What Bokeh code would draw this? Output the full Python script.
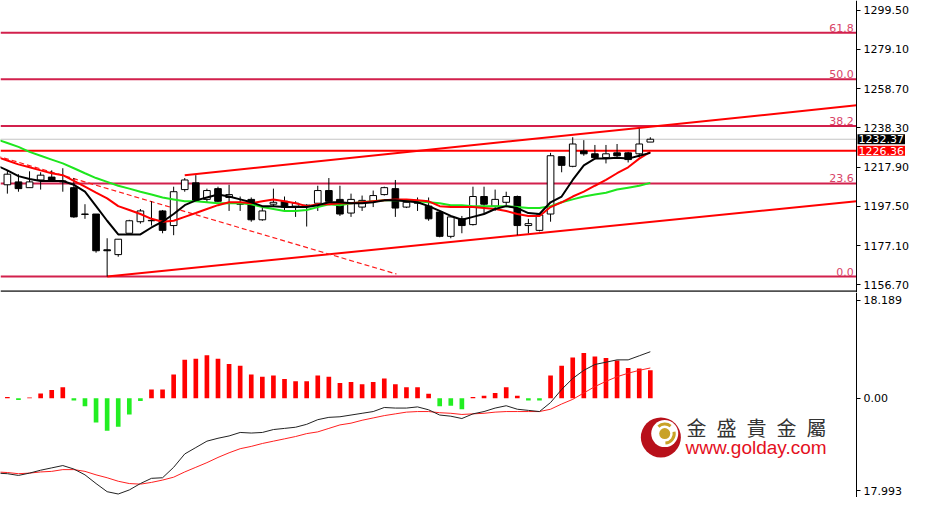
from bokeh.plotting import figure
from bokeh.layouts import column
from bokeh.models import Range1d, FixedTicker, Label
from bokeh.embed import file_html
from bokeh.resources import INLINE

# ---------------- data ----------------
bars = list(range(59))
opens = [1208.7, 1210.2, 1207.2, 1211.2, 1212.7, 1210.7, 1207.2, 1193.5, 1193.5, 1174.9,
         1172.4, 1183.5, 1189.5, 1190.0, 1195.1, 1187.5, 1206.2, 1209.7, 1201.1, 1206.7,
         1202.1, 1199.1, 1201.1, 1190.5, 1198.6, 1200.1, 1197.6, 1198.1, 1199.1, 1205.7,
         1201.1, 1194.0, 1197.1, 1200.1, 1203.6, 1206.7, 1197.1, 1199.1, 1197.6, 1194.5,
         1181.9, 1191.0, 1188.0, 1202.6, 1197.6, 1199.6, 1202.6, 1187.5, 1185.0, 1193.5,
         1223.3, 1218.3, 1226.3, 1224.8, 1222.8, 1225.3, 1225.3, 1224.8, 1230.9]
closes = [1214.2, 1206.7, 1210.2, 1213.7, 1210.7, 1210.2, 1192.0, 1193.3, 1174.4, 1174.4,
          1180.4, 1190.0, 1195.1, 1190.2, 1185.0, 1205.1, 1211.2, 1200.6, 1205.7, 1200.1,
          1203.6, 1198.6, 1190.5, 1195.1, 1199.6, 1197.1, 1199.1, 1197.6, 1205.7, 1200.1,
          1193.5, 1201.1, 1200.6, 1203.1, 1207.2, 1196.6, 1199.6, 1199.4, 1191.0, 1181.9,
          1192.0, 1187.5, 1202.6, 1198.6, 1201.1, 1202.6, 1187.5, 1188.5, 1193.0, 1223.8,
          1218.8, 1229.9, 1224.8, 1222.8, 1224.8, 1223.8, 1221.8, 1229.9, 1232.37]
highs = [1216.2, 1214.2, 1215.7, 1215.2, 1216.2, 1217.3, 1212.2, 1198.6, 1193.5, 1180.9,
         1180.4, 1190.5, 1196.1, 1200.1, 1195.6, 1207.7, 1212.2, 1213.7, 1206.7, 1207.7,
         1208.7, 1202.6, 1202.1, 1197.1, 1206.7, 1202.6, 1200.1, 1198.6, 1208.2, 1212.2,
         1208.2, 1204.1, 1203.1, 1205.7, 1207.7, 1211.2, 1200.1, 1202.1, 1202.1, 1195.1,
         1192.0, 1192.5, 1207.7, 1207.7, 1206.2, 1205.1, 1203.1, 1191.0, 1193.5, 1225.3,
         1223.3, 1233.4, 1231.9, 1229.4, 1229.4, 1229.9, 1225.8, 1237.9, 1233.4]
lows = [1204.1, 1205.1, 1207.2, 1206.2, 1210.2, 1205.1, 1191.5, 1191.0, 1173.4, 1161.0,
        1171.3, 1183.5, 1188.5, 1187.5, 1183.5, 1182.5, 1205.1, 1200.1, 1199.6, 1199.6,
        1195.1, 1195.1, 1189.5, 1190.0, 1197.1, 1195.1, 1192.0, 1187.0, 1195.1, 1200.1,
        1192.5, 1192.0, 1195.1, 1197.1, 1203.1, 1192.0, 1196.6, 1195.1, 1190.0, 1181.4,
        1180.9, 1183.5, 1187.5, 1193.5, 1195.1, 1197.1, 1182.5, 1183.5, 1184.5, 1189.5,
        1215.2, 1217.8, 1223.8, 1221.8, 1219.8, 1222.8, 1220.3, 1222.8, 1230.9]

ma_x = list(range(-1, 59))
ma_fast = [1218.8, 1216.2, 1213.2, 1211.7, 1210.7, 1210.7, 1210.7, 1208.7, 1205.1, 1197.6,
           1190.0, 1182.9, 1182.9, 1182.9, 1186.5, 1189.5, 1193.5, 1198.1, 1200.6, 1202.1,
           1203.6, 1202.6, 1201.1, 1199.6, 1197.6, 1197.6, 1197.1, 1197.1, 1197.1, 1198.1,
           1199.6, 1199.6, 1199.1, 1199.1, 1199.6, 1200.6, 1200.6, 1200.1, 1199.6, 1197.6,
           1195.1, 1192.5, 1190.5, 1192.0, 1193.5, 1196.1, 1197.6, 1196.6, 1194.0, 1193.5,
           1199.6, 1202.6, 1211.2, 1218.8, 1222.3, 1222.3, 1222.8, 1222.3, 1223.8, 1225.3]
ma_mid = [1223.3, 1221.3, 1219.3, 1217.8, 1216.2, 1214.7, 1213.7, 1210.7, 1207.7, 1204.6,
          1201.6, 1197.6, 1195.6, 1193.5, 1191.0, 1189.5, 1190.0, 1192.0, 1194.0, 1196.1,
          1198.1, 1199.6, 1199.6, 1199.1, 1200.1, 1201.1, 1200.1, 1199.1, 1197.6, 1198.6,
          1198.6, 1199.1, 1199.1, 1199.6, 1200.1, 1200.6, 1201.1, 1201.1, 1200.6, 1200.1,
          1197.6, 1197.1, 1197.1, 1197.1, 1196.6, 1196.1, 1195.1, 1193.5, 1192.5, 1192.5,
          1197.1, 1199.6, 1202.6, 1205.1, 1208.2, 1211.2, 1214.7, 1217.8, 1222.3, 1225.8]
ma_slow = [1232.4, 1230.4, 1228.4, 1225.8, 1223.8, 1221.8, 1219.8, 1217.3, 1214.7, 1212.2,
           1210.2, 1208.2, 1206.7, 1205.1, 1203.6, 1202.1, 1201.1, 1200.1, 1200.1, 1199.6,
           1199.1, 1199.1, 1199.1, 1198.6, 1197.1, 1196.1, 1195.1, 1195.1, 1195.6, 1197.1,
           1198.6, 1198.1, 1199.1, 1199.6, 1200.1, 1200.6, 1200.6, 1200.6, 1200.1, 1199.6,
           1199.1, 1198.1, 1198.1, 1197.6, 1197.6, 1197.6, 1197.6, 1197.1, 1196.6, 1196.6,
           1197.6, 1199.6, 1201.1, 1202.6, 1203.6, 1204.6, 1206.2, 1207.2, 1208.2, 1209.7]

price_ticks = [1299.5, 1279.1, 1258.7, 1238.3, 1217.9, 1197.5, 1177.1, 1156.7]
fib_low = 1161.0
fib_high = 1366.0
fib_levels = [0.0, 23.6, 38.2, 50.0, 61.8]
fib_labels = ["0.0", "23.6", "38.2", "50.0", "61.8"]
last_price = 1232.37
hline_price = 1226.36
upper_channel_x = [16, 76.6]
upper_channel_y = [1213.7, 1250.0]
lower_channel_x = [9, 76.6]
lower_channel_y = [1161.0, 1200.1]
dash_line_x = [-1, 35.1]
dash_line_y = [1223.8, 1162.3]

hist = [0.2, -0.3, 0.1, 0.8, 1.4, 1.9, -0.4, -1.4, -4.2, -5.6,
        -4.9, -2.8, -0.5, 1.5, 1.5, 4.1, 6.6, 6.8, 7.4, 6.8,
        5.9, 5.6, 4.1, 3.7, 3.9, 3.3, 2.9, 2.9, 3.9, 3.7,
        2.6, 2.8, 2.4, 2.8, 3.4, 2.4, 1.9, 1.9, 0.75, -1.4,
        -1.3, -1.9, 0.2, 0.4, 0.9, 1.9, 0.4, -0.4, -0.4, 3.9,
        5.6, 7.0, 7.8, 7.2, 6.9, 6.5, 5.2, 5.1, 4.8]
macd_main = [-12.9, -13.0, -13.3, -12.9, -12.4, -12.0, -11.6, -12.2, -13.2, -14.7,
             -16.1, -16.5, -15.8, -14.7, -13.8, -13.7, -11.9, -9.6, -8.5, -7.4,
             -6.9, -6.5, -5.9, -6.0, -5.9, -5.4, -5.2, -5.0, -4.5, -3.7,
             -3.3, -3.2, -2.9, -2.6, -2.3, -1.6, -1.7, -1.7, -1.5, -2.0,
             -2.9, -3.1, -3.5, -2.7, -2.3, -1.7, -1.3, -1.9, -2.1, -2.3,
             -0.75, 1.5, 3.4, 4.8, 5.8, 6.2, 6.6, 6.6, 7.3, 8.0]
macd_signal = [-12.7, -12.8, -13.0, -12.9, -12.7, -12.6, -12.3, -12.3, -12.6, -13.2,
               -13.7, -14.3, -14.7, -14.8, -14.5, -14.1, -13.6, -12.7, -11.9, -11.1,
               -10.2, -9.4, -8.7, -8.3, -7.8, -7.4, -7.0, -6.6, -6.1, -5.8,
               -5.2, -4.6, -4.3, -3.8, -3.4, -3.0, -2.7, -2.4, -2.3, -2.3,
               -2.5, -2.6, -2.8, -2.7, -2.6, -2.4, -2.3, -2.3, -2.3, -2.3,
               -1.9, -1.0, -0.2, 0.9, 2.0, 2.9, 3.7, 4.3, 4.8, 5.2]
macd_ticks = [16.9, 0.0, -15.9]
macd_tick_labels = ["18.189", "0.00", "17.993"]

brand_cn = "金\u2002盛\u2002貴\u2002金\u2002屬"
brand_url = "www.golday.com"

# ---------------- styling ----------------
X0, X1, XEND = -0.62, 76.6, 81.38   # chart area ends at X1, price scale area up to XEND
AXIS_FONT = "DejaVu Sans"
FIB_COLOR = "#d2204c"
FIB_TEXT = "#d84468"
W, H1, H2 = 909, 292, 205

def style_axis(p):
    ax = p.yaxis[0]
    ax.fixed_location = X1
    ax.axis_line_color = "black"
    ax.axis_line_width = 1
    ax.major_tick_line_color = "black"
    ax.major_tick_out = 4
    ax.major_tick_in = 0
    ax.minor_tick_line_color = None
    ax.major_label_standoff = 3
    ax.major_label_text_font = AXIS_FONT
    ax.major_label_text_font_size = "11px"
    ax.major_label_text_color = "black"

# ---------------- price panel ----------------
p1 = figure(frame_width=W, frame_height=H1, min_border=0,
            x_range=Range1d(X0, XEND), y_range=Range1d(1152.7, 1304.5),
            x_axis_location=None, y_axis_location="right",
            output_backend="svg", toolbar_location=None)
p1.outline_line_color = None
p1.grid.visible = False
p1.yaxis.ticker = FixedTicker(ticks=price_ticks)
p1.yaxis.major_label_overrides = {t: f"{t:.2f}" for t in price_ticks}
style_axis(p1)

# horizontal levels
fib_prices = [fib_low + (fib_high - fib_low) * lvl / 100.0 for lvl in fib_levels]
p1.segment(x0=[X0] * len(fib_prices), x1=[X1] * len(fib_prices), y0=fib_prices, y1=fib_prices,
           line_color=FIB_COLOR, line_width=2)
for price, lbl in zip(fib_prices, fib_labels):
    p1.add_layout(Label(x=76.35, y=price, text=lbl, text_align="right", text_baseline="bottom",
                        y_offset=1, text_color=FIB_TEXT, text_font=AXIS_FONT,
                        text_font_size="11px"))
p1.segment(x0=[X0], x1=[X1], y0=[last_price], y1=[last_price], line_color="#c4c4c4", line_width=1)
p1.segment(x0=[X0], x1=[X1], y0=[hline_price], y1=[hline_price], line_color="#ff0000", line_width=2)

# trend lines
p1.line(upper_channel_x, upper_channel_y, line_color="#ff0000", line_width=2)
p1.line(lower_channel_x, lower_channel_y, line_color="#ff0000", line_width=2)
p1.line(dash_line_x, dash_line_y, line_color="#ff1a1a", line_width=1.2, line_dash="5 3")

# candles
body_top = [max(o, c) for o, c in zip(opens, closes)]
body_bot = [min(o, c) for o, c in zip(opens, closes)]
body_col = ["white" if c >= o else "black" for o, c in zip(opens, closes)]
p1.segment(x0=bars, y0=lows, x1=bars, y1=highs, line_color="black", line_width=1)
p1.vbar(x=bars, top=body_top, bottom=body_bot, width=0.6, fill_color=body_col,
        line_color="black", line_width=1)

# moving averages
p1.line(ma_x, ma_slow, line_color="#1ee61e", line_width=2)
p1.line(ma_x, ma_mid, line_color="#ff0000", line_width=2)
p1.line(ma_x, ma_fast, line_color="black", line_width=2)

# separator line at panel bottom
p1.segment(x0=[X0], x1=[X1], y0=[1153.3], y1=[1153.3], line_color="#505050", line_width=2)

# price tags on the price scale
p1.add_layout(Label(x=X1, y=last_price, x_offset=1, text=f"{last_price:.2f}", text_align="left",
                    text_baseline="middle", text_color="white", background_fill_color="black",
                    text_font=AXIS_FONT, text_font_size="11px", padding=1))
p1.add_layout(Label(x=X1, y=hline_price, x_offset=1, text=f"{hline_price:.2f}", text_align="left",
                    text_baseline="middle", text_color="white", background_fill_color="#ff0000",
                    text_font=AXIS_FONT, text_font_size="11px", padding=1))

# ---------------- MACD panel ----------------
p2 = figure(frame_width=W, frame_height=H2, min_border=0,
            x_range=p1.x_range, y_range=Range1d(-17.1, 18.2),
            x_axis_location=None, y_axis_location="right",
            output_backend="svg", toolbar_location=None)
p2.outline_line_color = None
p2.grid.visible = False
p2.yaxis.ticker = FixedTicker(ticks=macd_ticks)
p2.yaxis.major_label_overrides = {t: s for t, s in zip(macd_ticks, macd_tick_labels)}
style_axis(p2)

hist_col = ["#ff0000" if h >= 0 else "#22ee22" for h in hist]
p2.vbar(x=bars, top=hist, bottom=0, width=0.42, fill_color=hist_col, line_color=None)
p2.line(ma_x, macd_signal, line_color="#ff2020", line_width=1)
p2.line(ma_x, macd_main, line_color="#222222", line_width=1)

# logo
p2.scatter(x=[58.95], y=[-6.76], size=40, marker="circle", fill_color="#b8101a", line_color=None)
p2.scatter(x=[59.3], y=[-6.1], size=27, marker="circle", fill_color="white", line_color=None)
p2.annular_wedge(x=[59.3], y=[-6.1], inner_radius=8, outer_radius=11,
                 inner_radius_units="screen", outer_radius_units="screen",
                 start_angle=0.9, end_angle=2.3, fill_color="#c9a227", line_color=None)
p2.annular_wedge(x=[59.3], y=[-6.1], inner_radius=8, outer_radius=11,
                 inner_radius_units="screen", outer_radius_units="screen",
                 start_angle=-1.5, end_angle=0.2, fill_color="#c9a227", line_color=None)
p2.scatter(x=[59.3], y=[-6.1], size=11, marker="circle", fill_color="#c9a227", line_color=None)

p2.add_layout(Label(x=61.26, y=-5.09, text=brand_cn, text_align="left", text_baseline="middle",
                    text_color="#333333", text_font="Noto Sans CJK TC",
                    text_font_size="20px"))
p2.add_layout(Label(x=61.17, y=-8.43, text=brand_url, text_align="left", text_baseline="middle",
                    text_color="#e4101e", text_font="Liberation Sans",
                    text_font_size="19px"))

layout = column(p1, p2)
open("out.html", "w").write(file_html(layout, INLINE))
